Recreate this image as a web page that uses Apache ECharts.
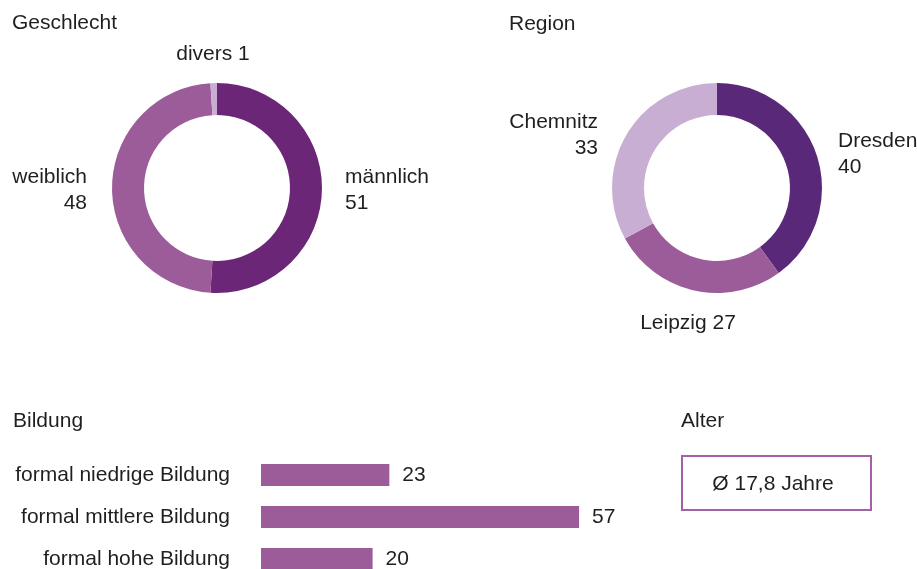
<!DOCTYPE html>
<html>
<head>
<meta charset="utf-8">
<title>Teilnehmende</title>
<script src="https://cdn.jsdelivr.net/npm/echarts@6/dist/echarts.min.js"></script>
<style>
  html, body { margin: 0; padding: 0; background: #fff; }
  #chart { width: 917px; height: 569px; }
</style>
</head>
<body>
<div id="chart"></div>
<script>
// data
const genderNames = ['männlich', 'weiblich', 'divers']
const genderValues = [51, 48, 1]
const regionNames = ['Dresden', 'Leipzig', 'Chemnitz']
const regionValues = [40, 27, 33]
const eduNames = ['formal niedrige Bildung', 'formal mittlere Bildung', 'formal hohe Bildung']
const eduValues = [23, 57, 20]
const avgAge = 17.8

const inlineLabels = ['divers', 'Leipzig']
const genderColors = ['#6b2677', '#9c5c9a', '#c9aed3']
const regionColors = ['#5a2878', '#9c5c9a', '#c9aed3']
// label anchors [x, y, align]
const genderLabelPos = [[345, 190, 'left'], [87, 190, 'right'], [213, 54, 'center']]
const regionLabelPos = [[838, 154, 'left'], [688, 323, 'center'], [598, 135, 'right']]

const textColor = '#1f1f1f'
const fontFamily = 'Liberation Sans, Arial, sans-serif'
const fontSize = 21

const toPieData = (names, values, colors) =>
  names.map((name, i) => ({ name, value: values[i], itemStyle: { color: colors[i] } }))

const pieSeries = (center, data, pos) => ({
  type: 'pie',
  center,
  radius: [73, 105],
  startAngle: 90,
  clockwise: true,
  silent: true,
  avoidLabelOverlap: false,
  minShowLabelAngle: 0,
  data,
  label: {
    show: true,
    position: 'outside',
    fontSize,
    lineHeight: 26,
    color: textColor,
    fontFamily,
    formatter: (p) => (inlineLabels.includes(p.name) ? `${p.name} ${p.value}` : `${p.name}\n${p.value}`)
  },
  labelLine: { show: false },
  labelLayout: (params) => {
    const lp = pos[params.dataIndex]
    return { x: lp[0], y: lp[1], align: lp[2], verticalAlign: 'middle' }
  }
})

const chart = echarts.init(document.getElementById('chart'))
const titleStyle = { fontSize, fontWeight: 'normal', color: textColor, fontFamily }
const option = {
  animation: false,
  title: [
    { text: 'Geschlecht', left: 12, top: 13, padding: 0, textStyle: titleStyle },
    { text: 'Region', left: 509, top: 14, padding: 0, textStyle: titleStyle },
    { text: 'Bildung', left: 13, top: 411, padding: 0, textStyle: titleStyle },
    { text: 'Alter', left: 681, top: 411, padding: 0, textStyle: titleStyle }
  ],
  grid: { left: 261, top: 454, width: 558, height: 126, containLabel: false, outerBoundsMode: 'none' },
  xAxis: { type: 'value', min: 0, max: 100, show: false },
  yAxis: {
    type: 'category',
    data: eduNames,
    inverse: true,
    axisLine: { show: false },
    axisTick: { show: false },
    axisLabel: { fontSize, color: textColor, fontFamily, margin: 31 }
  },
  series: [
    pieSeries([217, 188], toPieData(genderNames, genderValues, genderColors), genderLabelPos),
    pieSeries([717, 188], toPieData(regionNames, regionValues, regionColors), regionLabelPos),
    {
      type: 'bar',
      data: eduValues,
      barWidth: 22,
      silent: true,
      itemStyle: { color: '#9c5c9a' },
      label: { show: true, position: 'right', distance: 13, fontSize, color: textColor, fontFamily }
    }
  ],
  graphic: [
    {
      type: 'rect',
      shape: { x: 682, y: 456, width: 189, height: 54 },
      style: { fill: '#fff', stroke: '#a362a8', lineWidth: 2 }
    },
    {
      type: 'text',
      x: 773,
      y: 484,
      style: {
        text: 'Ø ' + avgAge.toFixed(1).replace('.', ',') + ' Jahre',
        fontSize,
        fontFamily,
        fill: textColor,
        align: 'center',
        verticalAlign: 'middle'
      }
    }
  ]
}
chart.setOption(option)
window.addEventListener('resize', () => chart.resize())
</script>
</body>
</html>
